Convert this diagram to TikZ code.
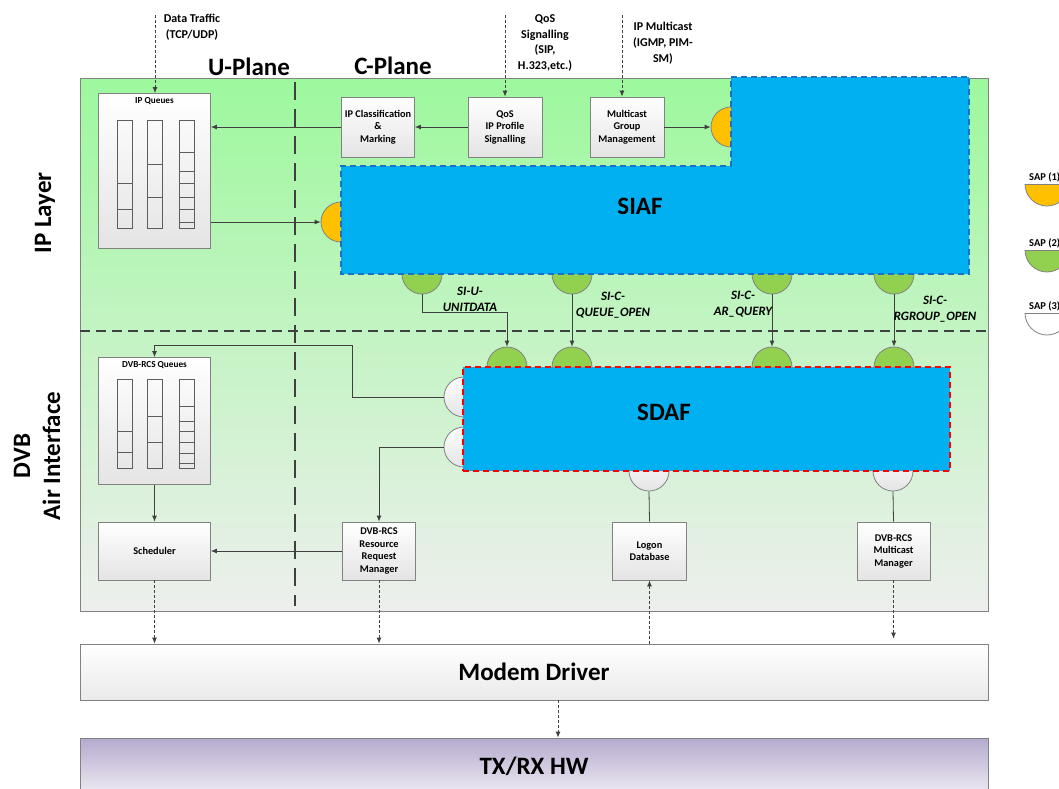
\documentclass[tikz,border=0pt]{standalone}
\usepackage{fontspec}
\setmainfont{Carlito}
\usetikzlibrary{arrows.meta}
\definecolor{linegray}{HTML}{404040}
\definecolor{edgegray}{HTML}{828282}
\definecolor{sapyel}{HTML}{FFC000}
\definecolor{sapgrn}{HTML}{92D050}
\definecolor{fnblue}{HTML}{00B0F0}
\definecolor{siafedge}{HTML}{1F6FC4}
\definecolor{bgtop}{HTML}{9DF89D}
\definecolor{bgmid}{HTML}{C4F5C4}
\definecolor{bgbot}{HTML}{EDEFED}
\definecolor{boxbot}{HTML}{E4E4E4}
\definecolor{hwtop}{HTML}{B5AACE}
\definecolor{hwbot}{HTML}{F0EDF4}
\begin{document}
\begin{tikzpicture}[x=1pt,y=-1pt,
  fbox/.style={draw=edgegray, line width=0.8pt, top color=white, bottom color=boxbot,
    inner sep=0pt, align=center, font=\bfseries\fontsize{10.3}{12.5}\selectfont},
  sap/.style={circle, draw=edgegray, line width=0.8pt, minimum size=40pt, inner sep=0pt},
  ysap/.style={sap, fill=sapyel},
  gsap/.style={sap, fill=sapgrn},
  wsap/.style={sap, top color=white, bottom color=boxbot},
  conn/.style={draw=linegray, line width=0.8pt, -{Latex[length=6pt,width=5pt]}},
  link/.style={draw=linegray, line width=0.8pt},
  dconn/.style={conn, dash pattern=on 3pt off 2pt},
  qline/.style={draw=linegray!85, line width=0.8pt},
  bigtxt/.style={font=\bfseries\fontsize{25}{30}\selectfont, align=center},
  toptxt/.style={font=\bfseries\fontsize{12}{15.7}\selectfont, align=center},
  sitxt/.style={font=\bfseries\itshape\fontsize{12.8}{16}\selectfont, align=center},
  qtitle/.style={font=\bfseries\fontsize{9.2}{11}\selectfont},
  legtxt/.style={font=\bfseries\fontsize{10.5}{12}\selectfont, anchor=south west, inner sep=0pt}
]
\useasboundingbox (0,0) rectangle (1059,788);
\clip (0,0) rectangle (1059,788);

% layer background
\shade[top color=bgtop, middle color=bgmid, bottom color=bgbot] (80,78) rectangle (988,611);
\draw[edgegray, line width=1pt] (80,78) rectangle (988,611);

% plane and layer separators
\draw[linegray, line width=2.5pt, dash pattern=on 10pt off 6pt] (80,331) -- (988,331);
\draw[linegray, line width=2.5pt, dash pattern=on 18pt off 9pt] (295,82) -- (295,606);

% titles
\node[bigtxt] (uplane) at (249,67) {U-Plane};
\node[bigtxt] (cplane) at (393,66) {C-Plane};
\node[bigtxt, rotate=90] (iplayer) at (45,213) {IP Layer};
\node[bigtxt, rotate=90] (dvbair) at (37,456) {DVB\\Air Interface};

% service access points (drawn first, the function blocks cover half of each)
\node[ysap] (sapY1) at (731,127) {};
\node[ysap] (sapY2) at (341,222) {};
\node[gsap] (sapU1) at (422,274) {};
\node[gsap] (sapU2) at (572,274) {};
\node[gsap] (sapU3) at (772,274) {};
\node[gsap] (sapU4) at (894,274) {};
\node[gsap] (sapD1) at (507,367) {};
\node[gsap] (sapD2) at (572,367) {};
\node[gsap] (sapD3) at (772,367) {};
\node[gsap] (sapD4) at (894,367) {};
\node[wsap] (sapW1) at (464,397) {};
\node[wsap] (sapW2) at (464,447) {};
\node[wsap] (sapB1) at (649,471) {};
\node[wsap] (sapB2) at (893,471) {};

% SIAF block
\draw[fill=fnblue, draw=siafedge, line width=2pt, dash pattern=on 6pt off 4pt]
  (731,77) -- (969,77) -- (969,274) -- (341,274) -- (341,166) -- (731,166) -- cycle;
\node[bigtxt] (siaf) at (640,206) {SIAF};

% SDAF block
\node[draw=red, fill=fnblue, line width=2pt, dash pattern=on 6pt off 4pt,
  minimum width=487pt, minimum height=104pt, inner sep=0pt] (sdaf) at (706.5,419) {};
\node[bigtxt] (sdaftxt) at (664,412) {SDAF};

% IP layer boxes
\node[fbox, minimum width=112pt, minimum height=155pt] (ipq) at (154.5,171) {};
\node[qtitle] (ipqt) at (154.5,101) {IP Queues};
\node[fbox, minimum width=73pt, minimum height=60pt] (ipc) at (378,127) {IP Classification\\\&\\Marking};
\node[fbox, minimum width=74pt, minimum height=60pt] (qos) at (505,127) {QoS\\IP Profile\\Signalling};
\node[fbox, minimum width=74pt, minimum height=60pt] (mgm) at (627,127) {Multicast\\Group\\Management};

% IP queue columns
\foreach \a in {117,147,179} \draw[qline] (\a,120) rectangle (\a+15,228);
\foreach \b in {183,209} \draw[qline] (117,\b) -- (132,\b);
\foreach \b in {164,197} \draw[qline] (147,\b) -- (162,\b);
\foreach \b in {152,171,183,197,209,222} \draw[qline] (179,\b) -- (194,\b);

% DVB layer boxes
\node[fbox, minimum width=112pt, minimum height=127pt] (dvq) at (154.5,421) {};
\node[qtitle] (dvqt) at (154.5,365) {DVB-RCS Queues};
\node[fbox, minimum width=112pt, minimum height=58pt] (sched) at (154.5,551) {Scheduler};
\node[fbox, minimum width=73pt, minimum height=58pt] (rrm) at (379,551) {DVB-RCS\\Resource\\Request\\Manager};
\node[fbox, minimum width=74pt, minimum height=58pt] (logon) at (649.5,551) {Logon\\Database};
\node[fbox, minimum width=73pt, minimum height=58pt] (mcm) at (893.5,551) {DVB-RCS\\Multicast\\Manager};

% DVB queue columns
\foreach \a in {117,147,179} \draw[qline] (\a,379) rectangle (\a+15,468);
\foreach \b in {431,452} \draw[qline] (117,\b) -- (132,\b);
\foreach \b in {416,442} \draw[qline] (147,\b) -- (162,\b);
\foreach \b in {406,421,431,442,453,463} \draw[qline] (179,\b) -- (194,\b);

% lower stack
\node[draw=edgegray, line width=0.8pt, top color=white, bottom color=boxbot!80,
  minimum width=908pt, minimum height=56pt, inner sep=0pt, bigtxt] (modem) at (534,672) {Modem Driver};
\node[draw=edgegray, line width=0.8pt, top color=hwtop, bottom color=hwbot,
  minimum width=908pt, minimum height=58pt, inner sep=0pt] (txrx) at (534,767) {};
\node[bigtxt] (txrxt) at (534,766) {TX/RX HW};

% external inputs
\coordinate (dtin) at (155,15);
\coordinate (qosin) at (505,15);
\coordinate (mcin) at (622,15);
\node[toptxt] (dtlbl) at (192,27) {Data Traffic\\(TCP/UDP)};
\node[toptxt] (qoslbl) at (545,43) {QoS\\Signalling\\(SIP,\\H.323,etc.)};
\node[toptxt] (mclbl) at (663,43) {IP Multicast\\(IGMP, PIM-\\SM)};
\draw[dconn] (dtin) -- (dtin |- ipq.north);
\draw[dconn] (qosin) -- (qos.north);
\draw[dconn] (mcin) -- (mcin |- mgm.north);

% IP layer flows
\draw[conn] (ipc.west) -- (ipc.west -| ipq.east);
\draw[conn] (qos.west) -- (ipc.east);
\draw[conn] (mgm.east) -- (sapY1.west);
\draw[conn] (ipq.east |- sapY2.west) -- (sapY2.west);

% SIAF to SDAF primitives
\draw[conn] (sapU1.south) -- ++(0,18) -| (sapD1.north);
\draw[conn] (sapU2.south) -- (sapD2.north);
\draw[conn] (sapU3.south) -- (sapD3.north);
\draw[conn] (sapU4.south) -- (sapD4.north);
\node[sitxt] (si1) at (470,299) {SI-U-\\UNITDATA};
\node[sitxt] (si2) at (613,305) {SI-C-\\QUEUE\_OPEN};
\node[sitxt] (si3) at (743,304) {SI-C-\\AR\_QUERY};
\node[sitxt] (si4) at (935,309) {SI-C-\\RGROUP\_OPEN};

% DVB layer flows
\coordinate (qbend) at (352,345);
\draw[conn] (sapW1.west) -| (qbend) -| (dvq.north);
\draw[conn] (sapW2.west) -| (rrm.north);
\draw[conn] (dvq.south) -- (sched.north);
\draw[conn] (rrm.west) -- (rrm.west -| sched.east);
\draw[link] (sapB1.south) -- (logon.north);
\draw[link] (sapB2.south) -- (mcm.north);

% links to the modem driver and hardware
\draw[dconn] (sched.south) -- (sched.south |- modem.north);
\draw[dconn] (rrm.south) -- (rrm.south |- modem.north);
\draw[dconn] (logon.south |- modem.north) -- (logon.south);
\draw[dconn, shorten >=5pt] (mcm.south) -- (mcm.south |- modem.north);
\draw[dconn] ([xshift=24pt]modem.south) -- ([xshift=24pt]modem.south |- txrx.north);

% legend
\foreach \n/\c/\y in {1/sapyel/184, 2/sapgrn/250, 3/white/313} {
  \begin{scope}
    \clip (1020,\y) rectangle (1070,\y+25);
    \filldraw[fill=\c, draw=edgegray, line width=0.8pt] (1047,\y) circle[radius=22];
  \end{scope}
  \draw[edgegray, line width=0.8pt] (1025,\y) -- (1069,\y);
  \node[legtxt] (leg\n) at (1029,\y-2) {SAP (\n)};
}
\end{tikzpicture}
\end{document}
